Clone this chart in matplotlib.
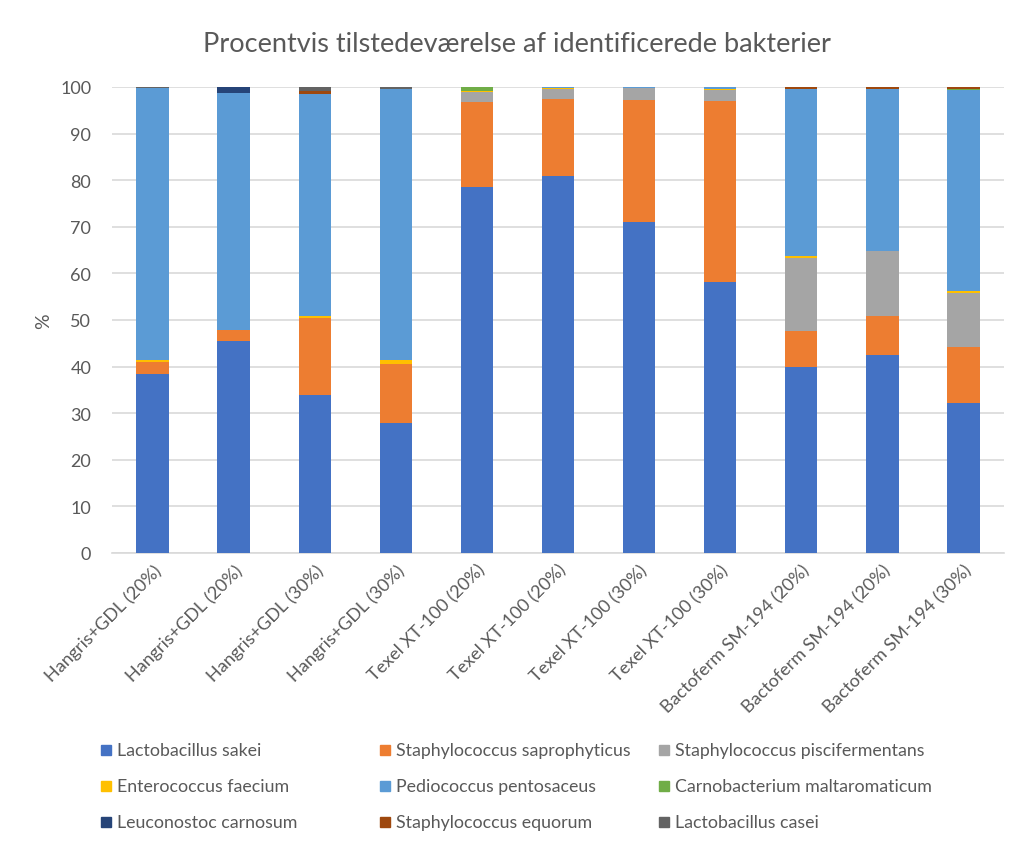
import numpy as np
import matplotlib.pyplot as plt
from matplotlib.patches import Rectangle

plt.rcParams['font.family'] = ['Lato', 'DejaVu Sans']

samples = ['Hangris+GDL (20%)', 'Hangris+GDL (20%)', 'Hangris+GDL (30%)', 'Hangris+GDL (30%)',
           'Texel XT-100 (20%)', 'Texel XT-100 (20%)', 'Texel XT-100 (30%)', 'Texel XT-100 (30%)',
           'Bactoferm SM-194 (20%)', 'Bactoferm SM-194 (20%)', 'Bactoferm SM-194 (30%)']

species = ['Lactobacillus sakei', 'Staphylococcus saprophyticus', 'Staphylococcus piscifermentans',
           'Enterococcus faecium', 'Pediococcus pentosaceus', 'Carnobacterium maltaromaticum',
           'Leuconostoc carnosum', 'Staphylococcus equorum', 'Lactobacillus casei']

sakei    = [38.4, 45.6, 34.0, 28.0, 78.5, 80.8, 71.0, 58.1, 39.9, 42.4, 32.1]
sapro    = [2.6, 2.3, 16.4, 12.6, 18.3, 16.6, 26.2, 38.9, 7.8, 8.5, 12.1]
pisci    = [0, 0, 0, 0, 2.2, 2.2, 2.6, 2.4, 15.7, 13.9, 11.6]
entero   = [0.4, 0, 0.5, 0.8, 0.2, 0.2, 0, 0.2, 0.3, 0, 0.4]
pedio    = [58.3, 50.9, 47.5, 58.2, 0, 0.2, 0.2, 0.4, 35.9, 34.8, 43.2]
carno    = [0, 0, 0, 0, 0.8, 0, 0, 0, 0, 0, 0.2]
leuco    = [0, 1.2, 0.2, 0, 0, 0, 0, 0, 0, 0, 0]
equorum  = [0, 0, 0.6, 0, 0, 0, 0, 0, 0.4, 0.4, 0.4]
casei    = [0.3, 0, 0.8, 0.4, 0, 0, 0, 0, 0, 0, 0]

series = [sakei, sapro, pisci, entero, pedio, carno, leuco, equorum, casei]
colors = ['#4472C4', '#ED7D31', '#A5A5A5', '#FFC000', '#5B9BD5', '#70AD47',
          '#264478', '#9E480E', '#636363']

W, H = 1013, 845
fig = plt.figure(figsize=(W / 100, H / 100), dpi=100)
ax = fig.add_axes([112 / W, 1 - 554 / H, (1004 - 112) / W, (554 - 88) / H])

x = np.arange(len(samples))
bottom = np.zeros(len(samples))
for vals, c in zip(series, colors):
    ax.bar(x, vals, 0.4, bottom=bottom, color=c, zorder=3)
    bottom += np.array(vals)

ax.set_xlim(-0.5, len(samples) - 0.5)
ax.set_ylim(0, 100)
ax.set_yticks(range(0, 101, 10))
ax.yaxis.grid(True, color='#D9D9D9', lw=1.2, zorder=0)
for s in ['top', 'right', 'left']:
    ax.spines[s].set_visible(False)
ax.spines['bottom'].set_color('#D9D9D9')
ax.spines['bottom'].set_linewidth(1.2)
ax.tick_params(length=0, colors='#595959', labelsize=13)
ax.tick_params(axis='y', pad=15)
ax.tick_params(axis='x', pad=6)
ax.set_xticks(x)
ax.set_xticklabels(samples, rotation=45, ha='right', rotation_mode='anchor')
ax.set_ylabel('%', color='#595959', fontsize=14, labelpad=6)

fig.text(517 / W, 1 - 45 / H, 'Procentvis tilstedeværelse af identificerede bakterier',
         ha='center', va='center', fontsize=19.5, color='#595959')

# legend, row-wise like Excel
for i, (name, c) in enumerate(zip(species, colors)):
    col, row = i % 3, i // 3
    lx = 106 + col * 279
    ly = 751 + row * 36
    fig.patches.append(Rectangle(((lx - 5) / W, 1 - (ly + 5) / H), 10 / W, 10 / H,
                                 transform=fig.transFigure, color=c))
    fig.text((lx + 11) / W, 1 - ly / H, name, ha='left', va='center',
             fontsize=12.8, color='#595959')

plt.savefig('out.png', dpi=100)
